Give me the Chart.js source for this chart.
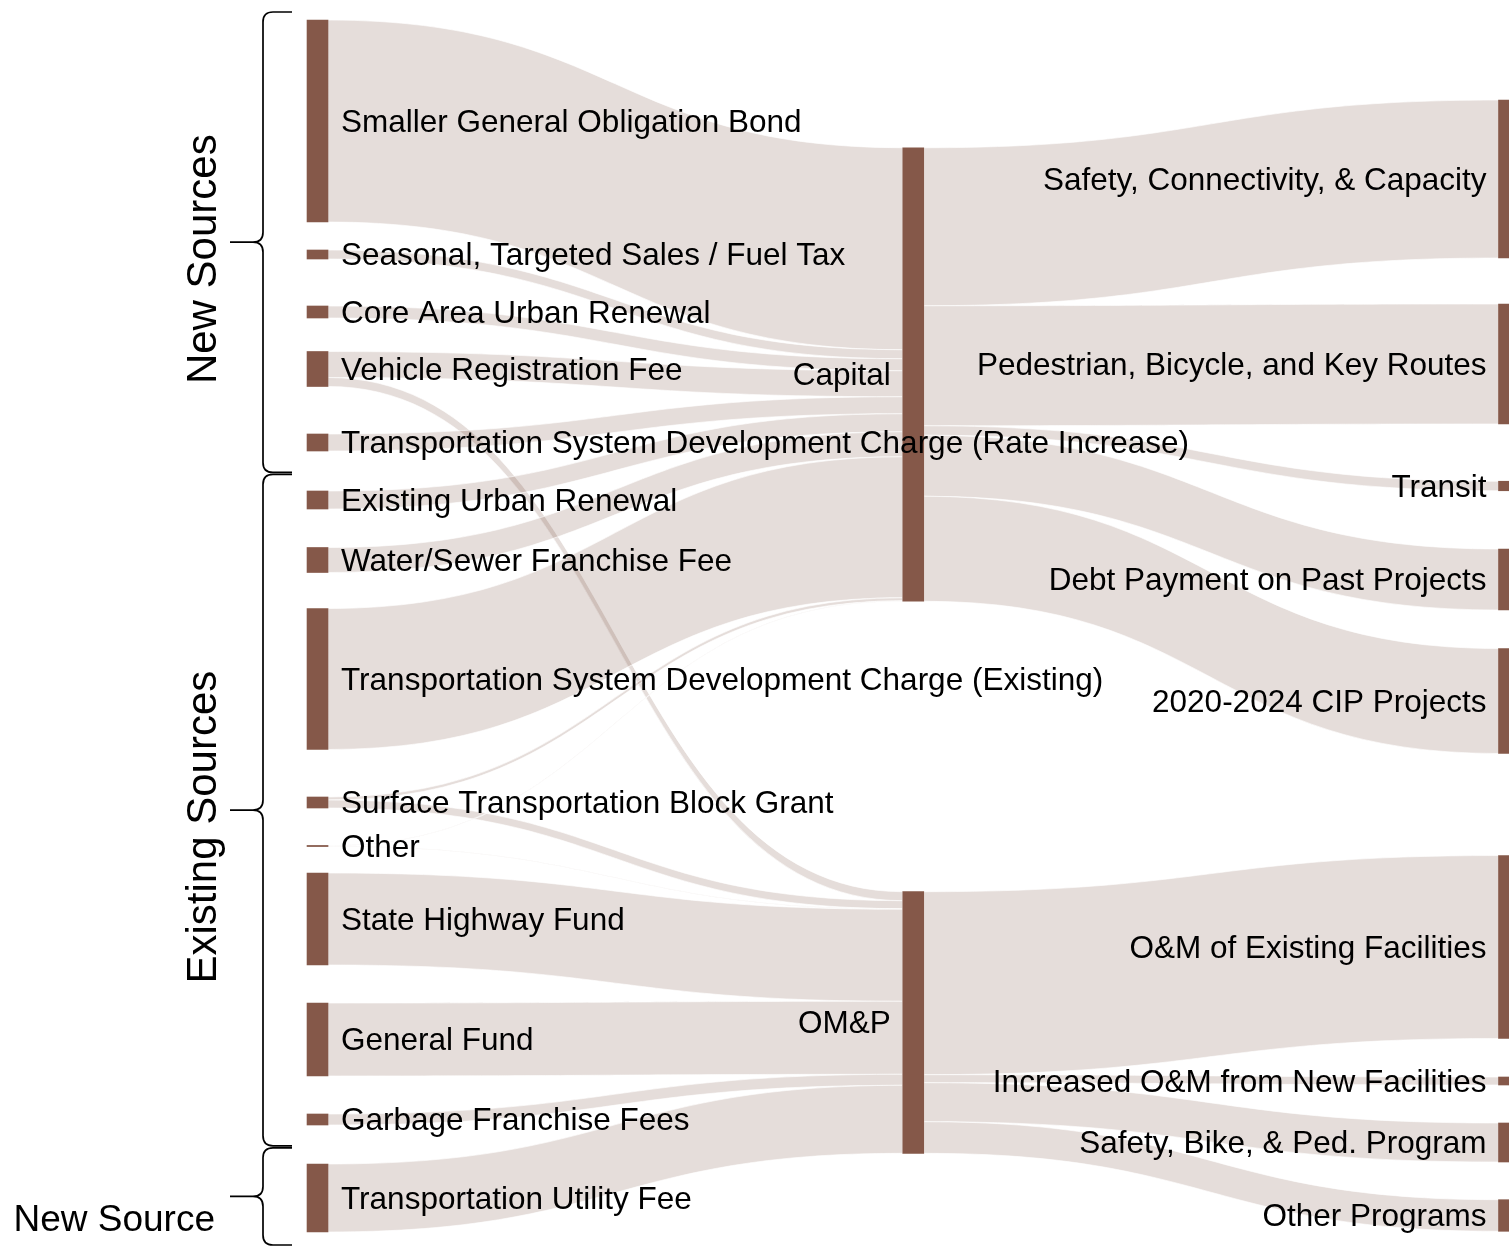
<!DOCTYPE html>
<html>
<head>
<meta charset="utf-8">
<title>Transportation funding sources and uses</title>
<script src="https://cdn.jsdelivr.net/npm/chart.js@4.4.1/dist/chart.umd.min.js"></script>
<style>
  html, body { margin: 0; padding: 0; background: #fff; overflow: hidden; }
  canvas { display: block; }
</style>
</head>
<body>
<canvas id="sankey" width="1509" height="1247"></canvas>
<script>
// --- Data ---
const sourceLabels = [
  "Smaller General Obligation Bond",
  "Seasonal, Targeted Sales / Fuel Tax",
  "Core Area Urban Renewal",
  "Vehicle Registration Fee",
  "Transportation System Development Charge (Rate Increase)",
  "Existing Urban Renewal",
  "Water/Sewer Franchise Fee",
  "Transportation System Development Charge (Existing)",
  "Surface Transportation Block Grant",
  "Other",
  "State Highway Fund",
  "General Fund",
  "Garbage Franchise Fees",
  "Transportation Utility Fee",
];
const useLabels = ["Capital", "OM&P"];
const programLabels = [
  "Safety, Connectivity, & Capacity",
  "Pedestrian, Bicycle, and Key Routes",
  "Transit",
  "Debt Payment on Past Projects",
  "2020-2024 CIP Projects",
  "O&M of Existing Facilities",
  "Increased O&M from New Facilities",
  "Safety, Bike, & Ped. Program",
  "Other Programs",
];

// [from, to, value]
const fundingLinks = [
  ["Smaller General Obligation Bond", "Capital", 202],
  ["Seasonal, Targeted Sales / Fuel Tax", "Capital", 9],
  ["Core Area Urban Renewal", "Capital", 12],
  ["Vehicle Registration Fee", "Capital", 26],
  ["Vehicle Registration Fee", "OM&P", 9],
  ["Transportation System Development Charge (Rate Increase)", "Capital", 17],
  ["Existing Urban Renewal", "Capital", 18],
  ["Water/Sewer Franchise Fee", "Capital", 25],
  ["Transportation System Development Charge (Existing)", "Capital", 141],
  ["Surface Transportation Block Grant", "Capital", 3],
  ["Surface Transportation Block Grant", "OM&P", 8],
  ["Other", "Capital", 0.5],
  ["Other", "OM&P", 0.6],
  ["State Highway Fund", "OM&P", 92],
  ["General Fund", "OM&P", 73],
  ["Garbage Franchise Fees", "OM&P", 11],
  ["Transportation Utility Fee", "OM&P", 68],
];
const spendingLinks = [
  ["Capital", "Safety, Connectivity, & Capacity", 158],
  ["Capital", "Pedestrian, Bicycle, and Key Routes", 120],
  ["Capital", "Transit", 9.5],
  ["Capital", "Debt Payment on Past Projects", 61],
  ["Capital", "2020-2024 CIP Projects", 105],
  ["OM&P", "O&M of Existing Facilities", 183],
  ["OM&P", "Increased O&M from New Facilities", 8],
  ["OM&P", "Safety, Bike, & Ped. Program", 39],
  ["OM&P", "Other Programs", 31.6],
];

// node centres on the value axis (like plotly node.y)
const sourceY = [121, 254.5, 312, 369, 442.5, 500, 560, 679, 802.5, 846, 919, 1039.5, 1119.5, 1198];
const useY = [374.5, 1022.5];
const programY = [179, 364, 486, 579.5, 701, 947, 1081, 1142.5, 1215.5];

// brackets on the left: first and last source in each group
const sourceGroups = [
  { label: "New Sources", first: 0, last: 4, rotate: true },
  { label: "Existing Sources", first: 5, last: 12, rotate: true },
  { label: "New Source", first: 13, last: 13, rotate: false },
];

// --- Styles ---
const NODE_COLOR = "rgb(133, 88, 73)";
const LINK_COLOR = "rgba(80, 30, 10, 0.15)";
const LABEL_FONT = '31.5px "Liberation Sans", Arial, Helvetica, sans-serif';
const Y_SPAN = 1247;

// --- Build nodes & links ---
const nodes = [];
[sourceLabels, useLabels, programLabels].forEach((labels, col) => {
  const centres = [sourceY, useY, programY][col];
  labels.forEach((label, i) => {
    nodes.push({ label, col, centre: centres[i], inSum: 0, outSum: 0, outs: [], ins: [] });
  });
});
const nodeIndex = (label) => nodes.findIndex((n) => n.label === label);

const links = [...fundingLinks, ...spendingLinks].map(([from, to, value]) => {
  const link = { source: nodeIndex(from), target: nodeIndex(to), value };
  nodes[link.source].outSum += value;
  nodes[link.source].outs.push(link);
  nodes[link.target].inSum += value;
  nodes[link.target].ins.push(link);
  return link;
});

nodes.forEach((n) => {
  n.size = Math.max(n.inSum, n.outSum);
  n.y0 = n.centre - n.size / 2;
  n.y1 = n.centre + n.size / 2;
});
nodes.forEach((n) => {
  let y = n.y0;
  n.outs.sort((a, b) => nodes[a.target].centre - nodes[b.target].centre);
  n.outs.forEach((l) => { l.sy = y; y += l.value; });
  y = n.y0;
  n.ins.sort((a, b) => nodes[a.source].centre - nodes[b.source].centre);
  n.ins.forEach((l) => { l.ty = y; y += l.value; });
});

// --- Plugins ---
const flowPlugin = {
  id: "flows",
  beforeDatasetsDraw(chart) {
    const ctx = chart.ctx;
    const ys = chart.scales.y;
    const bars = chart.getDatasetMeta(0).data;
    ctx.save();
    links.forEach((l) => {
      const s = bars[l.source].getProps(["x", "width"], true);
      const t = bars[l.target].getProps(["x", "width"], true);
      const x0 = s.x + s.width / 2;
      const x1 = t.x - t.width / 2;
      const xa = x0 + (x1 - x0) * 0.5;
      const xb = x1 - (x1 - x0) * 0.5;
      const s0 = ys.getPixelForValue(l.sy);
      const s1 = ys.getPixelForValue(l.sy + l.value);
      const t0 = ys.getPixelForValue(l.ty);
      const t1 = ys.getPixelForValue(l.ty + l.value);
      ctx.beginPath();
      ctx.moveTo(x0, s0);
      ctx.bezierCurveTo(xa, s0, xb, t0, x1, t0);
      ctx.lineTo(x1, t1);
      ctx.bezierCurveTo(xb, t1, xa, s1, x0, s1);
      ctx.closePath();
      ctx.fillStyle = LINK_COLOR;
      ctx.fill();
      ctx.strokeStyle = "rgba(255,255,255,0.8)";
      ctx.lineWidth = 0.8;
      ctx.stroke();
    });
    ctx.restore();
  },
};

const labelPlugin = {
  id: "nodeLabels",
  afterDatasetsDraw(chart) {
    const ctx = chart.ctx;
    const ys = chart.scales.y;
    const bars = chart.getDatasetMeta(0).data;
    ctx.save();
    ctx.font = LABEL_FONT;
    ctx.fillStyle = "#000";
    ctx.textBaseline = "middle";
    nodes.forEach((n, i) => {
      const b = bars[i].getProps(["x", "width"], true);
      const y = ys.getPixelForValue(n.centre) + 2;
      if (b.x > chart.width / 2) {
        ctx.textAlign = "right";
        ctx.fillText(n.label, b.x - b.width / 2 - 12, y);
      } else {
        ctx.textAlign = "left";
        ctx.fillText(n.label, b.x + b.width / 2 + 13, y);
      }
    });
    ctx.restore();
  },
};

function drawBrace(ctx, x, top, bottom) {
  const mid = (top + bottom) / 2;
  const r = 10;
  const tipX = x - 33;
  const armX = x + 29;
  ctx.beginPath();
  ctx.moveTo(armX, top);
  ctx.lineTo(x + r, top);
  ctx.quadraticCurveTo(x, top, x, top + r);
  ctx.lineTo(x, mid - r);
  ctx.quadraticCurveTo(x, mid, x - r, mid);
  ctx.lineTo(tipX, mid);
  ctx.moveTo(x - r, mid);
  ctx.quadraticCurveTo(x, mid, x, mid + r);
  ctx.lineTo(x, bottom - r);
  ctx.quadraticCurveTo(x, bottom, x + r, bottom);
  ctx.lineTo(armX, bottom);
  ctx.stroke();
}

const bracePlugin = {
  id: "groupBraces",
  afterDraw(chart) {
    const ctx = chart.ctx;
    const ys = chart.scales.y;
    const spine = 263;
    const edges = [ys.getPixelForValue(nodes[sourceGroups[0].first].y0) - 8];
    for (let g = 0; g < sourceGroups.length - 1; g++) {
      const a = ys.getPixelForValue(nodes[sourceGroups[g].last].y1);
      const b = ys.getPixelForValue(nodes[sourceGroups[g + 1].first].y0);
      edges.push(a + (b - a) * 0.56);
    }
    edges.push(ys.getPixelForValue(nodes[sourceGroups[sourceGroups.length - 1].last].y1) + 13);

    ctx.save();
    ctx.strokeStyle = "#000";
    ctx.lineWidth = 1.7;
    ctx.fillStyle = "#000";
    sourceGroups.forEach((g, i) => {
      const top = edges[i] + (i > 0 ? 1 : 0);
      const bottom = edges[i + 1] - (i < sourceGroups.length - 1 ? 1 : 0);
      drawBrace(ctx, spine, top, bottom);
      const mid = (top + bottom) / 2;
      if (g.rotate) {
        ctx.save();
        ctx.translate(spine - 47, mid + 17);
        ctx.rotate(-Math.PI / 2);
        ctx.font = '42px "Liberation Sans", Arial, Helvetica, sans-serif';
        ctx.textAlign = "center";
        ctx.textBaseline = "alphabetic";
        ctx.fillText(g.label, 0, 0);
        ctx.restore();
      } else {
        ctx.font = '37px "Liberation Sans", Arial, Helvetica, sans-serif';
        ctx.textAlign = "right";
        ctx.textBaseline = "middle";
        ctx.fillText(g.label, spine - 48, mid + 24);
      }
    });
    ctx.restore();
  },
};

// --- Chart ---
new Chart(document.getElementById("sankey"), {
  type: "bar",
  data: {
    datasets: [
      {
        data: nodes.map((n) => ({ x: n.col, y: [n.y0, n.y1] })),
        backgroundColor: NODE_COLOR,
        barThickness: 21,
        borderWidth: 0,
      },
    ],
  },
  options: {
    responsive: false,
    animation: false,
    events: [],
    layout: { padding: 0 },
    plugins: { legend: { display: false }, tooltip: { enabled: false } },
    scales: {
      x: { type: "linear", min: -0.533, max: 2, offset: false, display: false },
      y: { type: "linear", min: 0, max: Y_SPAN, reverse: true, display: false },
    },
  },
  plugins: [flowPlugin, labelPlugin, bracePlugin],
});
</script>
</body>
</html>
